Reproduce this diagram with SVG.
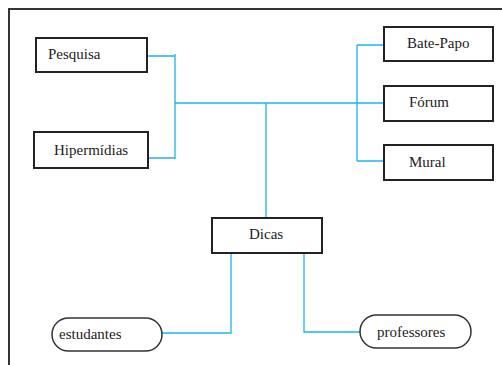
<svg xmlns="http://www.w3.org/2000/svg" width="502" height="365" viewBox="0 0 502 365">
  <style>
    .box { fill: #ffffff; stroke: #222222; stroke-width: 2; }
    .pill { fill: #ffffff; stroke: #333333; stroke-width: 1.5; }
    .lbl { font-family: 'Liberation Serif', 'Times New Roman', serif; font-size: 15px; fill: #222222; }
    .link { fill: none; stroke: #1fb3ea; stroke-width: 1.3; }
    .frame { fill: none; stroke: #333333; stroke-width: 2; }
  </style>
  <rect width="502" height="365" fill="#ffffff"/>
  <!-- outer frame -->
  <path class="frame" d="M9,365 V9 H502"/>

  <!-- connectors -->
  <g id="connectors">
    <path class="link" d="M147,56 H175 M175,54 V159 M147,158 H175"/>
    <path class="link" d="M175,103 H383"/>
    <path class="link" d="M266,103 V218"/>
    <path class="link" d="M357,45 V161 M357,45 H388 M357,161 H383"/>
    <path class="link" d="M231,251 V333 H162"/>
    <path class="link" d="M304,250 V332 H360"/>
  </g>

  <g id="pesquisa">
    <rect class="box" x="36" y="38" width="111" height="34"/>
    <text class="lbl" x="48" y="59">Pesquisa</text>
  </g>
  <g id="hipermidias">
    <rect class="box" x="34" y="132" width="114" height="36"/>
    <text class="lbl" x="54" y="155">Hipermídias</text>
  </g>
  <g id="bate-papo">
    <rect class="box" x="384" y="27" width="109" height="34"/>
    <text class="lbl" x="407" y="48">Bate-Papo</text>
  </g>
  <g id="forum">
    <rect class="box" x="384" y="86" width="109" height="35"/>
    <text class="lbl" x="409" y="107">Fórum</text>
  </g>
  <g id="mural">
    <rect class="box" x="384" y="145" width="109" height="35"/>
    <text class="lbl" x="409" y="167">Mural</text>
  </g>
  <g id="dicas">
    <rect class="box" x="212" y="218" width="110" height="35"/>
    <text class="lbl" x="249" y="239">Dicas</text>
  </g>
  <g id="estudantes">
    <rect class="pill" x="52" y="318" width="110" height="33" rx="16.5"/>
    <text class="lbl" x="59" y="339">estudantes</text>
  </g>
  <g id="professores">
    <rect class="pill" x="360" y="315" width="111" height="33" rx="16.5"/>
    <text class="lbl" x="377" y="337">professores</text>
  </g>
</svg>
